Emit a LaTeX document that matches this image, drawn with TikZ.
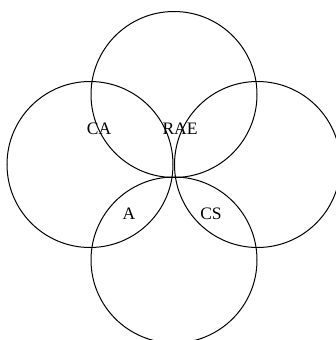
\documentclass[tikz,border=0pt]{standalone}
\usepackage{fontspec}
\setmainfont{Liberation Serif}
\begin{document}
\begin{tikzpicture}[x=1pt,y=-1pt,
  ring/.style={draw=black,line width=1pt,circle,minimum size=166pt,inner sep=0pt},
  lbl/.style={font=\fontsize{17.5}{17.5}\selectfont,inner sep=0pt}]
\useasboundingbox (0,0) rectangle (336,340);
\begin{scope}
\clip (0,0) rectangle (336,340);
\node[ring] (top) at (174,94.5) {};
\node[ring] (left) at (90,164.5) {};
\node[ring] (right) at (257.5,164.5) {};
\node[ring] (bottom) at (174,260) {};
\end{scope}
\node[lbl] (ca) at (99,129) {CA};
\node[lbl] (rae) at (180,129) {RAE};
\node[lbl] (a) at (129,214) {A};
\node[lbl] (cs) at (211,214) {CS};
\end{tikzpicture}
\end{document}
